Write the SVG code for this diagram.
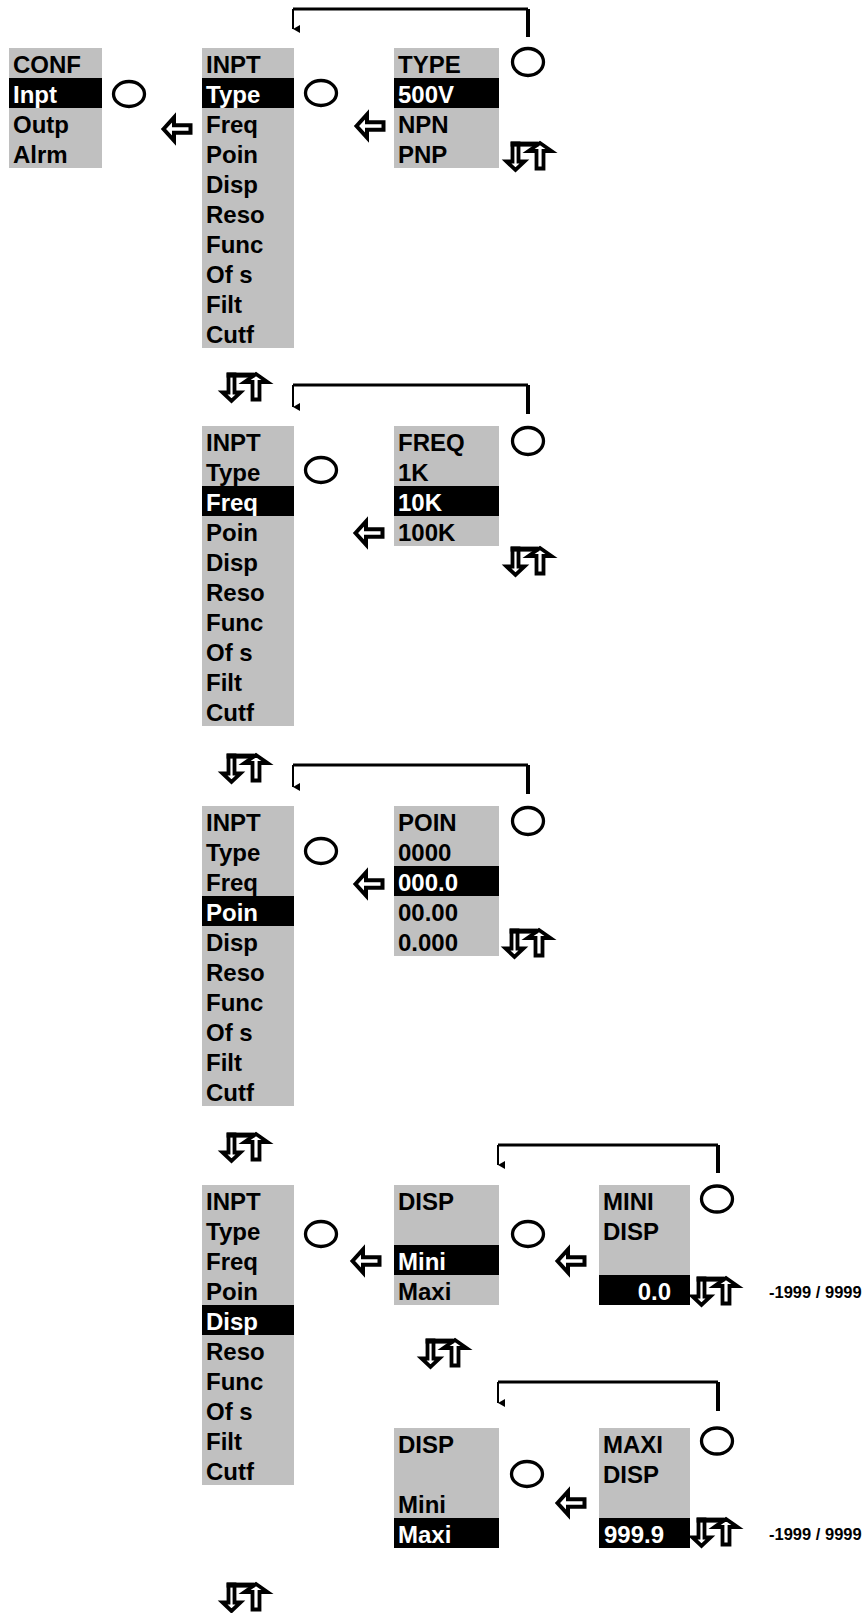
<svg xmlns="http://www.w3.org/2000/svg" xmlns:xlink="http://www.w3.org/1999/xlink" width="864" height="1613" viewBox="0 0 864 1613">
<style>
.bg{fill:#c0c0c0}
.hl{fill:#000}
.t{font-family:"Liberation Sans",Arial,Helvetica,sans-serif;font-weight:bold;font-size:24px;fill:#000}
.w{fill:#fff}
.r{font-size:16.5px}
.knob{fill:none;stroke:#000;stroke-width:3.3}
.ln{fill:none;stroke:#000;stroke-width:3}
.lv{fill:none;stroke:#000;stroke-width:4}
.th{fill:none;stroke:#000;stroke-width:2}
</style>
<defs>
<marker id="ah" viewBox="0 0 8 7" refX="4" refY="7" markerWidth="8" markerHeight="7" markerUnits="userSpaceOnUse" orient="auto-start-reverse">
<path d="M0,0 L8,0 L4,7 Z" fill="#000"/>
</marker>
<path id="la" d="M2.5,0 L13,-11.5 V-3.8 H29.5 V3.8 H13 V11.5 Z" fill="#fff" stroke="#000" stroke-width="4" stroke-linejoin="miter"/>
<g id="ud">
<path d="M6.5,2.5 H12.5 V20.5 H18.5 L9.5,29 L0.5,20.5 H6.5 Z" fill="#fff" stroke="#000" stroke-width="3.8"/>
<path d="M34,2 L45.5,10 H37.5 V27.5 H30.5 V10 H22.5 Z" fill="#fff" stroke="#000" stroke-width="3.8"/>
<rect x="4.6" y="0.6" width="27.8" height="5" fill="#000"/>
</g>
</defs>

<g id="connectors">
<path class="ln" d="M528,9 H293"/>
<path class="lv" d="M528,37 V9"/>
<path class="th" d="M293,9 V29" marker-end="url(#ah)"/>

<path class="ln" d="M528,385 H293"/>
<path class="lv" d="M528,414 V385"/>
<path class="th" d="M293,385 V407" marker-end="url(#ah)"/>

<path class="ln" d="M528,765 H293"/>
<path class="lv" d="M528,794 V765"/>
<path class="th" d="M293,765 V787" marker-end="url(#ah)"/>

<path class="ln" d="M718,1145 H498"/>
<path class="lv" d="M718,1173 V1145"/>
<path class="th" d="M498,1145 V1165" marker-end="url(#ah)"/>

<path class="ln" d="M718,1382 H498"/>
<path class="lv" d="M718,1411 V1382"/>
<path class="th" d="M498,1382 V1403" marker-end="url(#ah)"/>

<use xlink:href="#la" href="#la" x="161" y="129"/>
<use xlink:href="#la" href="#la" x="354" y="126"/>
<use xlink:href="#la" href="#la" x="353" y="533"/>
<use xlink:href="#la" href="#la" x="353" y="884"/>
<use xlink:href="#la" href="#la" x="350" y="1261"/>
<use xlink:href="#la" href="#la" x="555" y="1261"/>
<use xlink:href="#la" href="#la" x="555" y="1503"/>
</g>

<g id="knobs">
<ellipse class="knob" cx="129" cy="94" rx="15.5" ry="12.5"/>
<ellipse class="knob" cx="321" cy="93" rx="15.5" ry="12.5"/>
<ellipse class="knob" cx="528" cy="62" rx="15.5" ry="13.5"/>
<ellipse class="knob" cx="321" cy="470" rx="15.5" ry="12.5"/>
<ellipse class="knob" cx="528" cy="441" rx="15.5" ry="13.5"/>
<ellipse class="knob" cx="321" cy="851" rx="15.5" ry="12.5"/>
<ellipse class="knob" cx="528" cy="821" rx="15.5" ry="13.5"/>
<ellipse class="knob" cx="321" cy="1234" rx="15.5" ry="12.5"/>
<ellipse class="knob" cx="528" cy="1234" rx="15.5" ry="12.5"/>
<ellipse class="knob" cx="717" cy="1199" rx="15.5" ry="13"/>
<ellipse class="knob" cx="527" cy="1474" rx="15.5" ry="12.5"/>
<ellipse class="knob" cx="717" cy="1441" rx="15.5" ry="13"/>
</g>

<g id="updown">
<use xlink:href="#ud" href="#ud" x="506" y="141"/>
<use xlink:href="#ud" href="#ud" x="222" y="372"/>
<use xlink:href="#ud" href="#ud" x="506" y="546"/>
<use xlink:href="#ud" href="#ud" x="222" y="753"/>
<use xlink:href="#ud" href="#ud" x="505" y="928"/>
<use xlink:href="#ud" href="#ud" x="222" y="1132"/>
<use xlink:href="#ud" href="#ud" x="692" y="1276"/>
<use xlink:href="#ud" href="#ud" x="421" y="1338"/>
<use xlink:href="#ud" href="#ud" x="692" y="1517"/>
<use xlink:href="#ud" href="#ud" x="222" y="1582"/>
</g>

<g id="conf">
<rect class="bg" x="9" y="48" width="93" height="120"/>
<rect class="hl" x="9" y="78" width="93" height="30"/>
<text class="t" x="13" y="73">CONF</text>
<text class="t w" x="13" y="103">Inpt</text>
<text class="t" x="13" y="133">Outp</text>
<text class="t" x="13" y="163">Alrm</text>
</g>

<g id="inpt1">
<rect class="bg" x="202" y="48" width="92" height="300"/>
<rect class="hl" x="202" y="78" width="92" height="30"/>
<text class="t" x="206" y="73">INPT</text>
<text class="t w" x="206" y="103">Type</text>
<text class="t" x="206" y="133">Freq</text>
<text class="t" x="206" y="163">Poin</text>
<text class="t" x="206" y="193">Disp</text>
<text class="t" x="206" y="223">Reso</text>
<text class="t" x="206" y="253">Func</text>
<text class="t" x="206" y="283">Of s</text>
<text class="t" x="206" y="313">Filt</text>
<text class="t" x="206" y="343">Cutf</text>
</g>

<g id="type">
<rect class="bg" x="394" y="48" width="105" height="120"/>
<rect class="hl" x="394" y="78" width="105" height="30"/>
<text class="t" x="398" y="73">TYPE</text>
<text class="t w" x="398" y="103">500V</text>
<text class="t" x="398" y="133">NPN</text>
<text class="t" x="398" y="163">PNP</text>
</g>

<g id="inpt2">
<rect class="bg" x="202" y="426" width="92" height="300"/>
<rect class="hl" x="202" y="486" width="92" height="30"/>
<text class="t" x="206" y="451">INPT</text>
<text class="t" x="206" y="481">Type</text>
<text class="t w" x="206" y="511">Freq</text>
<text class="t" x="206" y="541">Poin</text>
<text class="t" x="206" y="571">Disp</text>
<text class="t" x="206" y="601">Reso</text>
<text class="t" x="206" y="631">Func</text>
<text class="t" x="206" y="661">Of s</text>
<text class="t" x="206" y="691">Filt</text>
<text class="t" x="206" y="721">Cutf</text>
</g>

<g id="freq">
<rect class="bg" x="394" y="426" width="105" height="120"/>
<rect class="hl" x="394" y="486" width="105" height="30"/>
<text class="t" x="398" y="451">FREQ</text>
<text class="t" x="398" y="481">1K</text>
<text class="t w" x="398" y="511">10K</text>
<text class="t" x="398" y="541">100K</text>
</g>

<g id="inpt3">
<rect class="bg" x="202" y="806" width="92" height="300"/>
<rect class="hl" x="202" y="896" width="92" height="30"/>
<text class="t" x="206" y="831">INPT</text>
<text class="t" x="206" y="861">Type</text>
<text class="t" x="206" y="891">Freq</text>
<text class="t w" x="206" y="921">Poin</text>
<text class="t" x="206" y="951">Disp</text>
<text class="t" x="206" y="981">Reso</text>
<text class="t" x="206" y="1011">Func</text>
<text class="t" x="206" y="1041">Of s</text>
<text class="t" x="206" y="1071">Filt</text>
<text class="t" x="206" y="1101">Cutf</text>
</g>

<g id="poin">
<rect class="bg" x="394" y="806" width="105" height="150"/>
<rect class="hl" x="394" y="866" width="105" height="30"/>
<text class="t" x="398" y="831">POIN</text>
<text class="t" x="398" y="861">0000</text>
<text class="t w" x="398" y="891">000.0</text>
<text class="t" x="398" y="921">00.00</text>
<text class="t" x="398" y="951">0.000</text>
</g>

<g id="inpt4">
<rect class="bg" x="202" y="1185" width="92" height="300"/>
<rect class="hl" x="202" y="1305" width="92" height="30"/>
<text class="t" x="206" y="1210">INPT</text>
<text class="t" x="206" y="1240">Type</text>
<text class="t" x="206" y="1270">Freq</text>
<text class="t" x="206" y="1300">Poin</text>
<text class="t w" x="206" y="1330">Disp</text>
<text class="t" x="206" y="1360">Reso</text>
<text class="t" x="206" y="1390">Func</text>
<text class="t" x="206" y="1420">Of s</text>
<text class="t" x="206" y="1450">Filt</text>
<text class="t" x="206" y="1480">Cutf</text>
</g>

<g id="disp1">
<rect class="bg" x="394" y="1185" width="105" height="120"/>
<rect class="hl" x="394" y="1245" width="105" height="30"/>
<text class="t" x="398" y="1210">DISP</text>
<text class="t w" x="398" y="1270">Mini</text>
<text class="t" x="398" y="1300">Maxi</text>
</g>

<g id="minidisp">
<rect class="bg" x="599" y="1185" width="91" height="120"/>
<rect class="hl" x="599" y="1275" width="91" height="30"/>
<text class="t" x="603" y="1210">MINI</text>
<text class="t" x="603" y="1240">DISP</text>
<text class="t w" x="671" y="1300" text-anchor="end">0.0</text>
</g>
<text id="range1" class="t r" x="769" y="1298">-1999 / 9999</text>

<g id="disp2">
<rect class="bg" x="394" y="1428" width="105" height="120"/>
<rect class="hl" x="394" y="1518" width="105" height="30"/>
<text class="t" x="398" y="1453">DISP</text>
<text class="t" x="398" y="1513">Mini</text>
<text class="t w" x="398" y="1543">Maxi</text>
</g>

<g id="maxidisp">
<rect class="bg" x="599" y="1428" width="91" height="120"/>
<rect class="hl" x="599" y="1518" width="91" height="30"/>
<text class="t" x="603" y="1453">MAXI</text>
<text class="t" x="603" y="1483">DISP</text>
<text class="t w" x="604" y="1543">999.9</text>
</g>
<text id="range2" class="t r" x="769" y="1540">-1999 / 9999</text>
</svg>
